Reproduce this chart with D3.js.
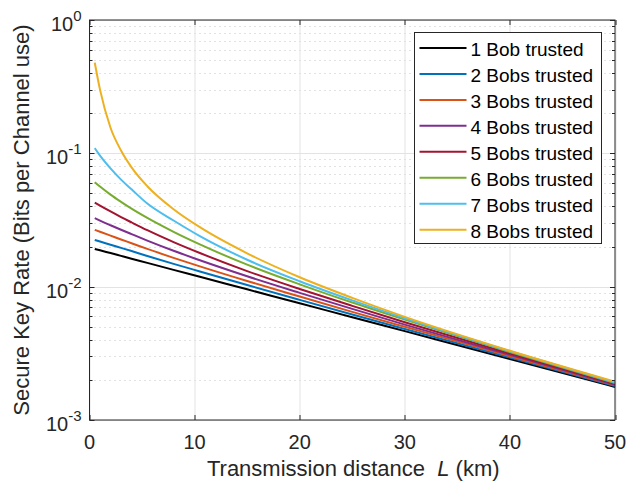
<!DOCTYPE html>
<html>
<head>
<meta charset="utf-8">
<script src="https://cdn.jsdelivr.net/npm/d3@7"></script>
<style>
  body { margin: 0; background: #fff; }
  svg { display: block; font-family: "Liberation Sans", Arial, Helvetica, sans-serif; }
</style>
</head>
<body>
<svg id="chart"></svg>
<script>
// transmission distance (km)
const distances = [0.5, 1, 2, 3, 4, 5.5, 8, 10.5, 15, 20, 25, 30, 40, 50];

// secure key rate, one array per number of trusted Bobs
const rate1 = [0.01919, 0.01873, 0.01786, 0.01702, 0.01622, 0.01508, 0.01337, 0.01186, 0.00955, 0.00751, 0.00590, 0.00464, 0.00287, 0.00177];
const rate2 = [0.02241, 0.02180, 0.02065, 0.01954, 0.01849, 0.01700, 0.01483, 0.01300, 0.01028, 0.00796, 0.00618, 0.00481, 0.00294, 0.00180];
const rate3 = [0.02665, 0.02580, 0.02415, 0.02259, 0.02118, 0.01920, 0.01645, 0.01419, 0.01102, 0.00843, 0.00647, 0.00500, 0.00301, 0.00182];
const rate4 = [0.03263, 0.03130, 0.02890, 0.02673, 0.02478, 0.02215, 0.01858, 0.01578, 0.01197, 0.00899, 0.00681, 0.00519, 0.00308, 0.00184];
const rate5 = [0.04272, 0.04051, 0.03663, 0.03326, 0.03034, 0.02651, 0.02158, 0.01787, 0.01309, 0.00961, 0.00718, 0.00541, 0.00315, 0.00187];
const rate6 = [0.06075, 0.05630, 0.04897, 0.04325, 0.03846, 0.03276, 0.02577, 0.02075, 0.01462, 0.01041, 0.00760, 0.00566, 0.00324, 0.00189];
const rate7 = [0.1093, 0.09606, 0.07707, 0.06353, 0.05371, 0.04202, 0.03134, 0.02394, 0.01592, 0.01098, 0.00789, 0.00580, 0.00328, 0.00191];
const rate8 = [0.4792, 0.3003, 0.1556, 0.1050, 0.07852, 0.05669, 0.03811, 0.02792, 0.01778, 0.01176, 0.00824, 0.00594, 0.00331, 0.00194];

const seriesNames = ["1 Bob trusted", "2 Bobs trusted", "3 Bobs trusted", "4 Bobs trusted",
                     "5 Bobs trusted", "6 Bobs trusted", "7 Bobs trusted", "8 Bobs trusted"];
const seriesColors = ["#000000", "#0072BD", "#D95319", "#7E2F8E", "#A2142F", "#77AC30", "#4DBEEE", "#EDB120"];

const xTicks = [0, 10, 20, 30, 40, 50];
const yExponents = [0, -1, -2, -3];

const config = {
    width: 627,
    height: 487,
    margin: {top: 20, right: 12, bottom: 67, left: 89.5}
};

const svg = d3.select('#chart')
    .attr('width', config.width)
    .attr('height', config.height);

const innerW = config.width - config.margin.left - config.margin.right;
const innerH = config.height - config.margin.top - config.margin.bottom;

const chart = svg.append('g')
    .attr('transform', `translate(${config.margin.left}, ${config.margin.top})`);

// scales
const x = d3.scaleLinear().domain([0, 50]).range([0, innerW]);
const y = d3.scaleLog().domain([1e-3, 1]).range([innerH, 0]);

// minor log ticks (2..9 x 10^k)
const minorVals = [];
[-3, -2, -1].forEach(k => {
    for (let m = 2; m <= 9; m++) minorVals.push(m * Math.pow(10, k));
});

// grid: dotted minor, solid major
chart.append('g').selectAll('line')
    .data(minorVals)
    .enter().append('line')
        .attr('x1', 0).attr('x2', innerW)
        .attr('y1', d => Math.round(y(d)) + 0.5)
        .attr('y2', d => Math.round(y(d)) + 0.5)
        .attr('stroke', '#c4c4c4')
        .attr('stroke-width', 1)
        .attr('stroke-dasharray', '1,4');

chart.append('g').selectAll('line')
    .data(yExponents.map(e => Math.pow(10, e)))
    .enter().append('line')
        .attr('x1', 0).attr('x2', innerW)
        .attr('y1', d => Math.round(y(d)) + 0.5)
        .attr('y2', d => Math.round(y(d)) + 0.5)
        .attr('stroke', '#e3e3e3');

chart.append('g').selectAll('line')
    .data(xTicks)
    .enter().append('line')
        .attr('x1', d => Math.round(x(d)) + 0.5)
        .attr('x2', d => Math.round(x(d)) + 0.5)
        .attr('y1', 0).attr('y2', innerH)
        .attr('stroke', '#e3e3e3');

// curves
const allRates = [rate1, rate2, rate3, rate4, rate5, rate6, rate7, rate8];
const series = allRates.map((vals, i) => ({
    name: seriesNames[i],
    color: seriesColors[i],
    values: vals.map((v, j) => ({L: distances[j], r: v}))
}));

const line = d3.line()
    .x(d => x(d.L))
    .y(d => y(d.r))
    .curve(d3.curveMonotoneX);

chart.append('g').selectAll('path')
    .data(series)
    .enter().append('path')
        .attr('d', d => line(d.values))
        .attr('fill', 'none')
        .attr('stroke', d => d.color)
        .attr('stroke-width', 2);

// axes box, ticks inside (matlab style)
const axisColor = '#262626';
const ticks = chart.append('g').attr('stroke', axisColor).attr('stroke-width', 1);

xTicks.forEach(t => {
    const px = Math.round(x(t)) + 0.5;
    ticks.append('line').attr('x1', px).attr('x2', px).attr('y1', innerH).attr('y2', innerH - 5);
    ticks.append('line').attr('x1', px).attr('x2', px).attr('y1', 0).attr('y2', 5);
});
yExponents.forEach(e => {
    const py = Math.round(y(Math.pow(10, e))) + 0.5;
    ticks.append('line').attr('x1', 0).attr('x2', 5).attr('y1', py).attr('y2', py);
    ticks.append('line').attr('x1', innerW).attr('x2', innerW - 5).attr('y1', py).attr('y2', py);
});
minorVals.forEach(v => {
    const py = Math.round(y(v)) + 0.5;
    ticks.append('line').attr('x1', 0).attr('x2', 3).attr('y1', py).attr('y2', py);
    ticks.append('line').attr('x1', innerW).attr('x2', innerW - 3).attr('y1', py).attr('y2', py);
});

chart.append('rect')
    .attr('x', 0).attr('y', 0)
    .attr('width', innerW).attr('height', innerH)
    .attr('fill', 'none')
    .attr('stroke', axisColor)
    .attr('stroke-width', 1);

// tick labels
chart.append('g').selectAll('text')
    .data(xTicks)
    .enter().append('text')
        .attr('x', d => x(d))
        .attr('y', innerH + 29)
        .attr('text-anchor', 'middle')
        .attr('font-size', '20px')
        .attr('fill', axisColor)
        .text(d => d);

const yLabels = chart.append('g').selectAll('text')
    .data(yExponents)
    .enter().append('text')
        .attr('x', -8)
        .attr('y', d => y(Math.pow(10, d)) + 11)
        .attr('text-anchor', 'end')
        .attr('font-size', '20px')
        .attr('fill', axisColor);
yLabels.append('tspan').text('10');
yLabels.append('tspan')
    .attr('dy', -10)
    .attr('font-size', '15px')
    .text(d => d === 0 ? '0' : '-' + Math.abs(d));

// axis titles
const xTitle = svg.append('text')
    .attr('x', config.margin.left + innerW / 2 + 1)
    .attr('y', config.height - 11)
    .attr('text-anchor', 'middle')
    .attr('font-size', '22px')
    .attr('fill', axisColor);
xTitle.append('tspan').text('Transmission distance\u00a0\u00a0');
xTitle.append('tspan').attr('font-style', 'italic').text('L');
xTitle.append('tspan').text(' (km)');

svg.append('text')
    .attr('transform', `translate(29, ${config.margin.top + innerH / 2}) rotate(-90)`)
    .attr('text-anchor', 'middle')
    .attr('font-size', '22px')
    .attr('fill', axisColor)
    .text('Secure Key Rate (Bits per Channel use)');

// legend
const legend = svg.append('g').attr('transform', 'translate(414.5, 32.5)');
legend.append('rect')
    .attr('width', 187).attr('height', 211)
    .attr('fill', '#fff')
    .attr('stroke', axisColor)
    .attr('stroke-width', 1);

const entry = legend.selectAll('g.entry')
    .data(series)
    .enter().append('g')
        .attr('class', 'entry')
        .attr('transform', (d, i) => `translate(0, ${15.5 + i * 25.95})`);
entry.append('line')
    .attr('x1', 5).attr('x2', 52)
    .attr('stroke', d => d.color)
    .attr('stroke-width', 2);
entry.append('text')
    .attr('x', 56)
    .attr('y', 8)
    .attr('font-size', '19px')
    .attr('fill', '#000')
    .text(d => d.name);
</script>
</body>
</html>
